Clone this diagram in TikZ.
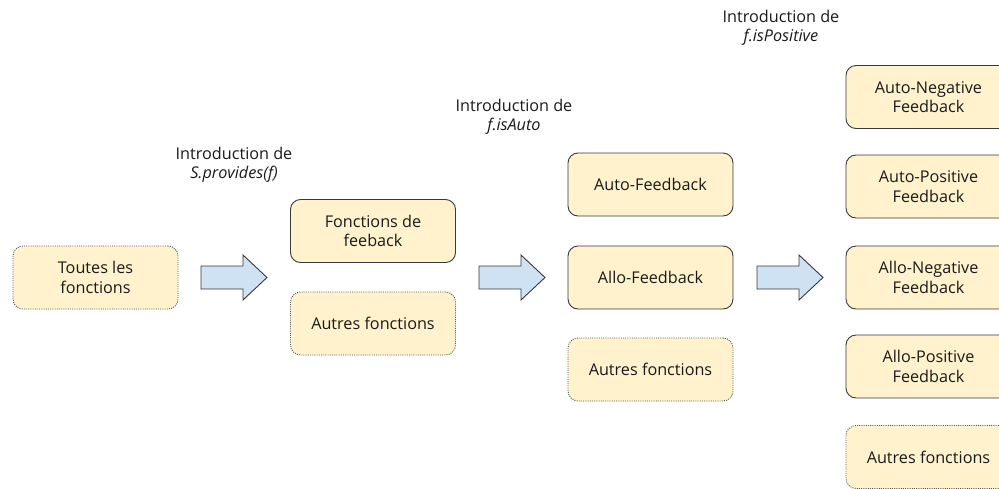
\documentclass[tikz,border=0pt]{standalone}
\usepackage{fontspec}
\setmainfont{Open Sans}
\definecolor{boxfill}{HTML}{FFF2CC}
\definecolor{boxline}{HTML}{36393D}
\definecolor{arrfill}{HTML}{CFE2F3}
\definecolor{txt}{HTML}{1A1A1A}
\begin{document}
\begin{tikzpicture}[x=1pt,y=-1pt,
  every node/.style={font=\fontsize{16.2}{19.5}\selectfont, text=txt, align=center},
  fbox/.style={draw=boxline, fill=boxfill, rounded corners=10pt, line width=0.9pt,
    minimum width=165pt, minimum height=63pt, inner sep=0pt},
  dbox/.style={fbox, draw=boxline!85, dash pattern=on 1pt off 1.2pt, line width=0.9pt},
  lbl/.style={inner sep=0pt},
  arrowstyle/.style={draw=boxline, fill=arrfill, line width=0.9pt, line join=miter},
  blockarrow/.pic={\draw[arrowstyle] (0,-11.5) -- (42,-11.5) -- (42,-22.5) -- (66,0) -- (42,22.5) -- (42,11.5) -- (0,11.5) -- cycle;}
]
\useasboundingbox (0,0) rectangle (999,488);
\clip (0,0) rectangle (999,488);
\node[dbox] (a) at (95.5,277.5) {Toutes les\\fonctions};
\node[fbox] (b1) at (373,231) {Fonctions de\\feeback};
\node[dbox] (b2) at (373,323.5) {Autres fonctions};
\node[fbox] (c1) at (650.5,184.5) {Auto-Feedback};
\node[fbox] (c2) at (650.5,277.5) {Allo-Feedback};
\node[dbox] (c3) at (650.5,369.5) {Autres fonctions};
\node[fbox] (d1) at (928.5,97) {Auto-Negative\\Feedback};
\node[fbox] (d2) at (928.5,186.5) {Auto-Positive\\Feedback};
\node[fbox] (d3) at (928.5,277.5) {Allo-Negative\\Feedback};
\node[fbox] (d4) at (928.5,366.5) {Allo-Positive\\Feedback};
\node[dbox] (d5) at (928.5,457) {Autres fonctions};
\node[lbl] (l1) at (234,165) {Introduction de\\\textit{S.provides(f)}};
\node[lbl] (l2) at (514,117) {Introduction de\\\textit{f.isAuto}};
\node[lbl] (l3) at (781,28) {Introduction de\\\textit{f.isPositive}};
\pic at (201,277.5) {blockarrow};
\pic at (479,277.5) {blockarrow};
\pic at (757,277.5) {blockarrow};
\end{tikzpicture}
\end{document}
